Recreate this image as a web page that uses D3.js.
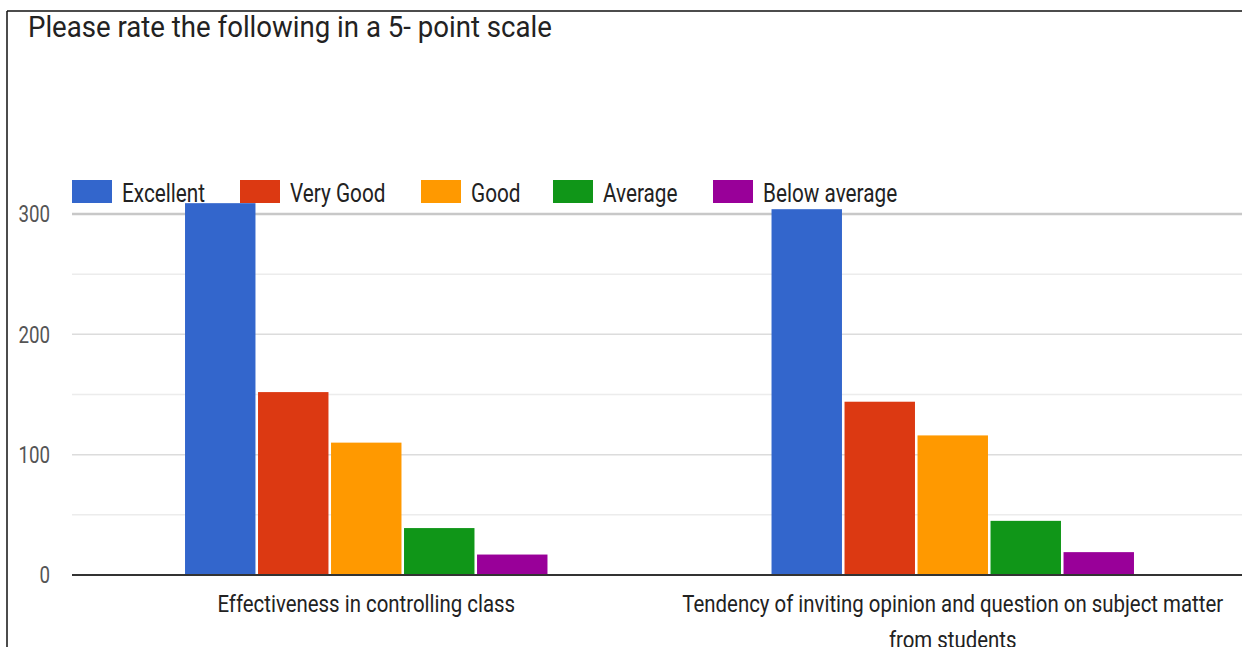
<!DOCTYPE html>
<html>
<head>
<meta charset="utf-8">
<script src="https://cdn.jsdelivr.net/npm/d3@7"></script>
<style>
  html, body { margin: 0; padding: 0; background: #fff; }
  svg { display: block; }
  text { font-family: Roboto, "Liberation Sans", sans-serif; }
</style>
</head>
<body>
<svg id="chart" width="1242" height="647"></svg>
<script>
// ---- data ----
const title = "Please rate the following in a 5- point scale";
const categories = [
  "Effectiveness in controlling class",
  "Tendency of inviting opinion and question on subject matter from students"
];
const seriesNames = ["Excellent", "Very Good", "Good", "Average", "Below average"];
const excellent    = [309, 304];
const veryGood     = [152, 144];
const good         = [110, 116];
const average      = [39, 45];
const belowAverage = [17, 19];
const yTicks = [0, 100, 200, 300];
const yGrid  = [0, 50, 100, 150, 200, 250, 300];
const colors = ["#3366cc", "#dc3912", "#ff9900", "#109618", "#990099"];

const seriesValues = [excellent, veryGood, good, average, belowAverage];

// ---- layout ----
const W = 1242, H = 647;
const plot = { left: 73, right: 1246, top: 214, bottom: 575 };
const K = 0.86; // horizontal condensation of the reference's text

const svg = d3.select("#chart");

function condense(sel, k) {
  sel.each(function () {
    const w = this.getComputedTextLength();
    d3.select(this).attr("textLength", w * k).attr("lengthAdjust", "spacingAndGlyphs");
  });
}

const x0 = d3.scaleBand().domain(categories).range([plot.left, plot.right])
  .paddingInner(0.382).paddingOuter(0.191);
const x1 = d3.scaleBand().domain(seriesNames).range([0, x0.bandwidth()])
  .paddingInner(0.035).paddingOuter(0);
const y = d3.scaleLinear().domain([0, 300]).range([plot.bottom, plot.top]);

// frame lines (left + top)
svg.append("line").attr("x1", 7).attr("x2", 7).attr("y1", 11).attr("y2", H)
  .attr("stroke", "#111").attr("stroke-width", 1.5);
svg.append("line").attr("x1", 7).attr("x2", W).attr("y1", 11).attr("y2", 11)
  .attr("stroke", "#111").attr("stroke-width", 1.5);

// title
svg.append("text").attr("x", 28).attr("y", 37).attr("font-size", 30)
  .attr("fill", "#222").text(title).call(condense, 0.92);

// gridlines
svg.append("g").selectAll("line").data(yGrid.filter(d => d !== 0)).join("line")
  .attr("x1", 72).attr("x2", W)
  .attr("y1", d => y(d)).attr("y2", d => y(d))
  .attr("stroke", d => d === 300 ? "#c8c8c8" : (d % 100 === 0 ? "#dcdcdc" : "#ececec"))
  .attr("stroke-width", d => d === 300 ? 2.5 : 1.5);

// y axis labels
const yAxis = d3.axisLeft(y).tickValues(yTicks).tickSize(0).tickPadding(0);
const gy = svg.append("g").attr("transform", "translate(50,0)").call(yAxis);
gy.select(".domain").remove();
gy.selectAll("text").attr("font-size", 24).attr("fill", "#555")
  .attr("font-family", "Roboto, sans-serif").call(condense, 0.78);

// bars
const groups = svg.append("g").selectAll("g").data(categories).join("g")
  .attr("transform", d => `translate(${x0(d)},0)`);
groups.selectAll("rect")
  .data((c, ci) => seriesNames.map((s, si) => ({ s, si, v: seriesValues[si][ci] })))
  .join("rect")
  .attr("x", d => x1(d.s))
  .attr("width", x1.bandwidth())
  .attr("y", d => y(d.v))
  .attr("height", d => y(0) - y(d.v))
  .attr("fill", d => colors[d.si]);

// baseline
svg.append("line").attr("x1", 72).attr("x2", W).attr("y1", y(0)).attr("y2", y(0))
  .attr("stroke", "#333").attr("stroke-width", 2);

// category labels (wrapped)
const catLines = [
  ["Effectiveness in controlling class"],
  ["Tendency of inviting opinion and question on subject matter", "from students"]
];
categories.forEach((c, i) => {
  catLines[i].forEach((ln, j) => {
    svg.append("text")
      .attr("x", x0(c) + x0.bandwidth() / 2)
      .attr("y", 612 + j * 36)
      .attr("text-anchor", "middle")
      .attr("font-size", 24).attr("fill", "#222")
      .text(ln).call(condense, 0.85);
  });
});

// legend
const legendX = [72, 240, 421, 553, 713];
const lg = svg.append("g").selectAll("g").data(seriesNames).join("g")
  .attr("transform", (d, i) => `translate(${legendX[i]},180)`);
lg.append("rect").attr("width", 40).attr("height", 23).attr("fill", (d, i) => colors[i]);
lg.append("text").attr("x", 50).attr("y", 21.5).attr("font-size", 25).attr("fill", "#222")
  .text(d => d).call(condense, 0.83);
</script>
</body>
</html>
